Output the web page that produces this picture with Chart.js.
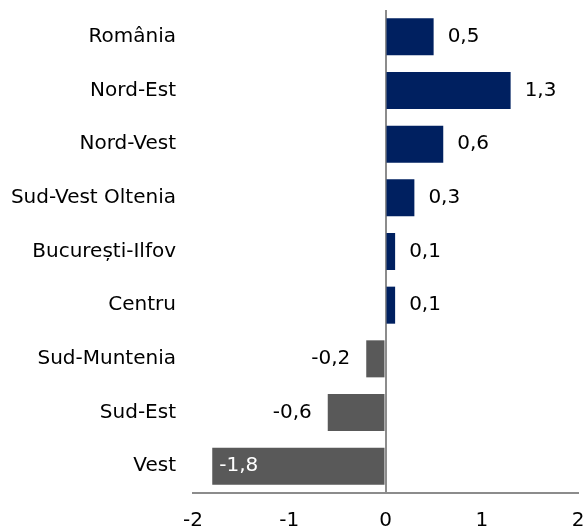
<!DOCTYPE html>
<html>
<head>
<meta charset="utf-8">
<script src="https://cdn.jsdelivr.net/npm/chart.js@4/dist/chart.umd.min.js"></script>
<style>
html,body{margin:0;padding:0;background:#fff;}
#wrap{width:584px;height:532px;position:relative;}
</style>
</head>
<body>
<div id="wrap"><canvas id="c" width="584" height="532"></canvas></div>
<script>
const categories = ["România","Nord-Est","Nord-Vest","Sud-Vest Oltenia","București-Ilfov","Centru","Sud-Muntenia","Sud-Est","Vest"];
const values = [0.5, 1.3, 0.6, 0.3, 0.1, 0.1, -0.2, -0.6, -1.8];
const xTicks = [-2, -1, 0, 1, 2];

const POS = "#002060", NEG = "#595959", AXIS = "#8c8c8c";
const FONT = '"DejaVu Sans", sans-serif';
const FS = 20;

const labelPlugin = {
  id: 'valueLabels',
  afterDatasetsDraw(chart) {
    const ctx = chart.ctx;
    const meta = chart.getDatasetMeta(0);
    const area = chart.chartArea;
    ctx.save();
    ctx.font = FS + 'px ' + FONT;
    ctx.textBaseline = 'middle';
    meta.data.forEach((bar, i) => {
      const v = values[i];
      const txt = v.toFixed(1).replace('.', ',');
      const w = ctx.measureText(txt).width;
      const gap = 14;
      if (v >= 0) {
        ctx.fillStyle = '#000';
        ctx.textAlign = 'left';
        ctx.fillText(txt, bar.x + gap, bar.y);
      } else if (bar.x - gap - w < area.left) {
        ctx.fillStyle = '#fff';
        ctx.textAlign = 'left';
        ctx.fillText(txt, bar.x + 7, bar.y);
      } else {
        ctx.fillStyle = '#000';
        ctx.textAlign = 'right';
        ctx.fillText(txt, bar.x - 16, bar.y);
      }
    });
    ctx.restore();
  }
};

new Chart(document.getElementById('c'), {
  type: 'bar',
  data: {
    labels: categories,
    datasets: [{
      data: values,
      backgroundColor: values.map(v => v >= 0 ? POS : NEG),
      borderWidth: 0,
      barPercentage: 0.69,
      categoryPercentage: 1
    }]
  },
  options: {
    indexAxis: 'y',
    responsive: false,
    animation: false,
    devicePixelRatio: 1,
    layout: { padding: { top: 10, right: 0, left: 0, bottom: 0 } },
    plugins: { legend: { display: false }, tooltip: { enabled: false } },
    scales: {
      x: {
        min: -2, max: 2,
        afterBuildTicks(scale) { scale.ticks = xTicks.map(v => ({ value: v })); },
        afterFit(scale) { scale.height = 39; scale.paddingRight = 6; scale.paddingLeft = 0; },
        ticks: {
          font: { family: FONT, size: FS },
          color: '#000',
          padding: 16,
          maxRotation: 0,
          callback: v => String(v)
        },
        grid: {
          drawTicks: false,
          lineWidth: 2,
          color: ctx => (ctx.tick && ctx.tick.value === 0) ? AXIS : 'rgba(0,0,0,0)'
        },
        border: { display: true, color: AXIS, width: 2 }
      },
      y: {
        afterFit(scale) { scale.width = 193; scale.paddingTop = 0; scale.paddingBottom = 0; },
        ticks: {
          font: { family: FONT, size: FS },
          color: '#000',
          padding: 17
        },
        grid: { display: false, drawTicks: false },
        border: { display: false }
      }
    }
  },
  plugins: [labelPlugin]
});
</script>
</body>
</html>
